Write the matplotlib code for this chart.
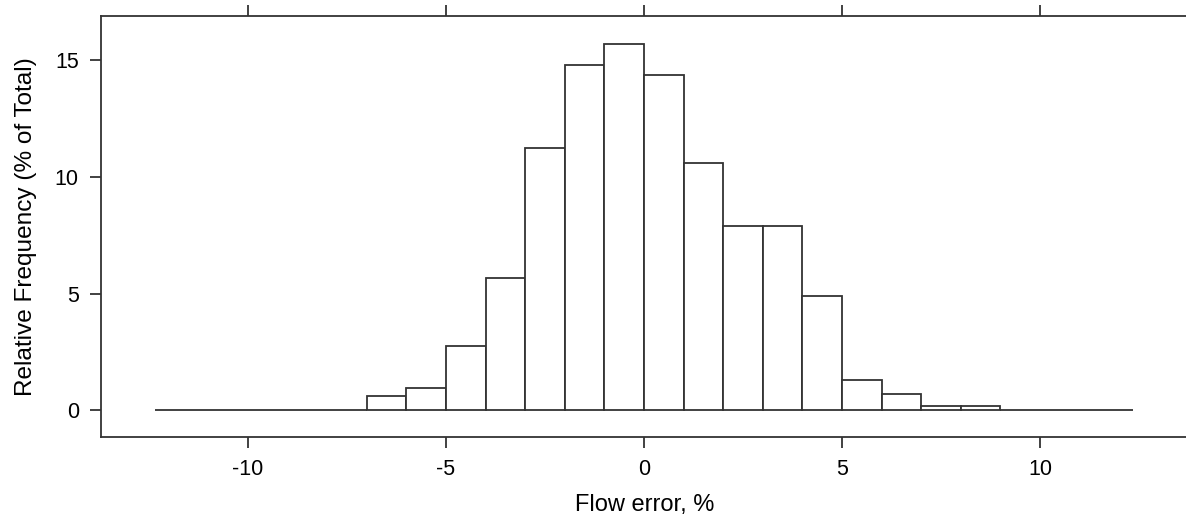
import numpy as np
import matplotlib.pyplot as plt

# bin edges (flow error, %) and relative frequency (% of total)
edges = [-12.35, -7, -6, -5, -4, -3, -2, -1, 0, 1, 2, 3, 4, 5, 6, 7, 8, 9, 12.35]
freq = [0, 0.6, 0.94, 2.76, 5.66, 11.23, 14.79, 15.71, 14.37, 10.61,
        7.89, 7.89, 4.89, 1.32, 0.72, 0.18, 0.18, 0]

xticks = [-10, -5, 0, 5, 10]
yticks = [0, 5, 10, 15]

plt.rcParams['font.family'] = ['Liberation Sans', 'DejaVu Sans']
plt.rcParams['axes.unicode_minus'] = False

fig = plt.figure(figsize=(11.86, 5.29), dpi=100)
ax = fig.add_axes([101 / 1186, 1 - 437 / 529, 1087.5 / 1186, 421 / 529])

linecol = '#333333'
widths = np.diff(edges)
ax.bar(edges[:-1], freq, width=widths, align='edge', color='white',
       edgecolor=linecol, linewidth=1.3)

ax.set_xlim(-13.71, 13.75)
ax.set_ylim(-1.14, 16.9)
ax.set_xticks(xticks)
ax.set_yticks(yticks)

for s in ax.spines.values():
    s.set_color(linecol)
    s.set_linewidth(1.3)
ax.spines['right'].set_color('#dddddd')

ax.tick_params(axis='x', top=True, labeltop=False, direction='out',
               length=8, width=1.3, color=linecol, labelsize=15.5, pad=8)
ax.tick_params(axis='y', right=False, direction='out',
               length=8, width=1.3, color=linecol, labelsize=15.5, pad=8)

ax.set_xlabel('Flow error, %', fontsize=17, labelpad=10)
ax.set_ylabel('Relative Frequency (% of Total)', fontsize=17.6, labelpad=13)

fig.savefig('out.png', dpi=100)
